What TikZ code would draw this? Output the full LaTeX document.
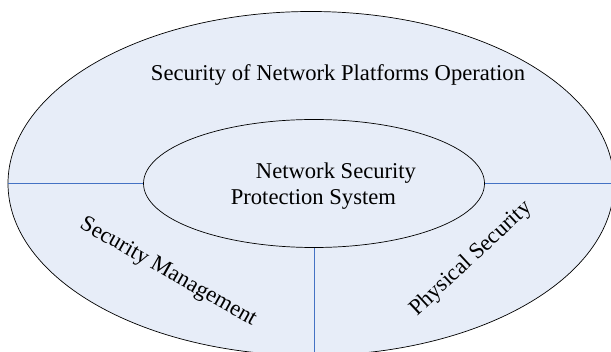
\documentclass[tikz,border=0pt]{standalone}
\usepackage{fontspec}
\setmainfont{Liberation Serif}
\usepackage{tikz}
\definecolor{maincolor}{RGB}{68,114,196}
\definecolor{areacolor}{RGB}{231,237,248}
\colorlet{dividercolor}{maincolor}
\usetikzlibrary{
  shapes,
}

\begin{document}
\begin{tikzpicture}[x=1pt,y=-1pt]
	\tikzstyle{every node}=[font=\fontsize{22.6}{27}\selectfont]
	\useasboundingbox (0,0) rectangle (611,352);
	% rings
	\node (outer) [draw, shape=ellipse, fill=areacolor, line width=0.7pt, inner sep=0, minimum width=606, minimum height=344] at (311,183.5) {};
	\node (inner) [draw, shape=ellipse, fill=areacolor, line width=0.7pt, inner sep=0, minimum width=341, minimum height=128] at (314,183.5) {};
	% dividers
	\draw [dividercolor, line width=0.8pt] (outer.west) -- (inner.west);
	\draw [dividercolor, line width=0.8pt] (inner.east) -- (outer.east);
	\draw [dividercolor, line width=0.8pt] (inner.south) -- (inner.south |- outer.south);
	% labels
	\node (platform) at (338,75.4) {Security of Network Platforms Operation};
	\node (system1) [anchor=base] at (336,178.3) {Network Security};
	\node (system2) [anchor=base] at (313.4,205) {Protection System};
	\node (management) [rotate=-29.5] at (168,272.5) {Security Management};
	\node (physical) [rotate=43] at (471,259) {Physical Security};
\end{tikzpicture}
\end{document}
